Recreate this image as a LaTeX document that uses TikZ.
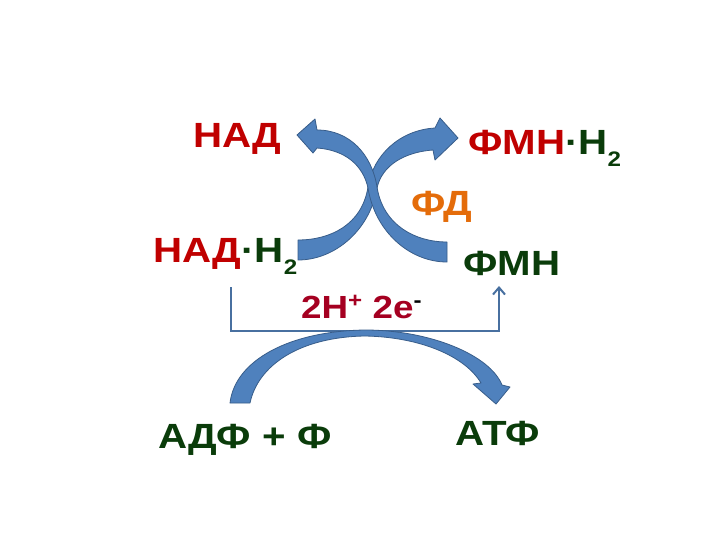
\documentclass[tikz,border=0pt]{standalone}
\usepackage{fontspec}
\setmainfont{Liberation Sans}
\usetikzlibrary{arrows.meta}
\definecolor{nred}{RGB}{192,0,0}
\definecolor{ngreen}{RGB}{10,60,10}
\definecolor{norange}{RGB}{228,108,10}
\definecolor{ncrim}{RGB}{165,0,33}
\definecolor{afill}{RGB}{79,129,189}
\definecolor{aline}{RGB}{56,93,138}
\definecolor{bline}{RGB}{72,112,160}
\newcommand{\widetxt}[1]{\scalebox{1.15}[1]{#1}}
\newcommand{\subtwo}{\raisebox{-12pt}{\fontsize{21}{24}\selectfont 2}}
\newcommand{\supsmall}[1]{\raisebox{11pt}{\fontsize{21}{24}\selectfont #1}}
\tikzset{
  lbl/.style={anchor=base west, inner sep=0pt, font=\bfseries\fontsize{35}{40}\selectfont},
  lblsmall/.style={anchor=base west, inner sep=0pt, font=\bfseries\fontsize{32}{36}\selectfont},
  blockarrow/.style={fill=afill, draw=aline, line width=0.8pt, line join=round},
  bracket/.style={draw=bline, line width=2pt, -{Straight Barb[length=7pt,width=12pt]}}
}
\begin{document}
\begin{tikzpicture}[x=1pt,y=-1pt]
\useasboundingbox (0,0) rectangle (720,540);
\fill[white] (0,0) rectangle (720,540);

% labels
\node[lbl] (nad) at (193,148) {\widetxt{\textcolor{nred}{НАД}}};
\node[lbl] (fmnh) at (468,155) {\widetxt{\textcolor{nred}{ФМН}\textcolor{ngreen}{·Н\subtwo}}};
\node[lbl] (fd) at (411,215) {\widetxt{\textcolor{norange}{ФД}}};
\node[lbl] (nadh) at (153,262) {\widetxt{\textcolor{nred}{НАД}\textcolor{ngreen}{·Н\subtwo}}};
\node[lbl] (fmn) at (463,275) {\widetxt{\textcolor{ngreen}{ФМН}}};
\node[lblsmall] (he) at (301,318) {\widetxt{\textcolor{ncrim}{2H\supsmall{+} 2e}\supsmall{\textcolor{black}{-}}}};
\node[lbl] (adf) at (158,448) {\widetxt{\textcolor{ngreen}{АДФ + Ф}}};
\node[lbl] (atf) at (455,445) {\widetxt{\textcolor{ngreen}{АТФ}}};

% bracket connector from НАД·Н2 to ФМН
\coordinate (b1) at (231,287);
\coordinate (b2) at (499,286);
\draw[bracket] (b1) -- (231,331) -- (499,331) -- (b2);

% crossing block arrows
\path[blockarrow] (298,240) .. controls (330,240) and (362,225) .. (368,187)
  .. controls (373,155) and (400,130) .. (435,128)
  -- (440,118) -- (458,138) -- (435,160) -- (433,150)
  .. controls (405,152) and (382,165) .. (377,188)
  .. controls (370,230) and (335,260) .. (298,260) -- cycle;
\path[blockarrow] (447,242) .. controls (415,242) and (383,225) .. (377,187)
  .. controls (372,155) and (350,130) .. (317,130)
  -- (315,119) -- (297,135) -- (313,153) -- (317,148)
  .. controls (345,150) and (363,165) .. (368,188)
  .. controls (375,232) and (410,262) .. (447,262) -- cycle;

% lower block arrow
\path[blockarrow] (230,403) .. controls (235,360) and (290,331) .. (365,330)
  .. controls (430,330) and (490,355) .. (502,385)
  -- (510,387) -- (496,404) -- (473,384) -- (481,383)
  .. controls (465,356) and (420,337) .. (365,336)
  .. controls (300,337) and (258,365) .. (250,403) -- cycle;
\end{tikzpicture}
\end{document}
